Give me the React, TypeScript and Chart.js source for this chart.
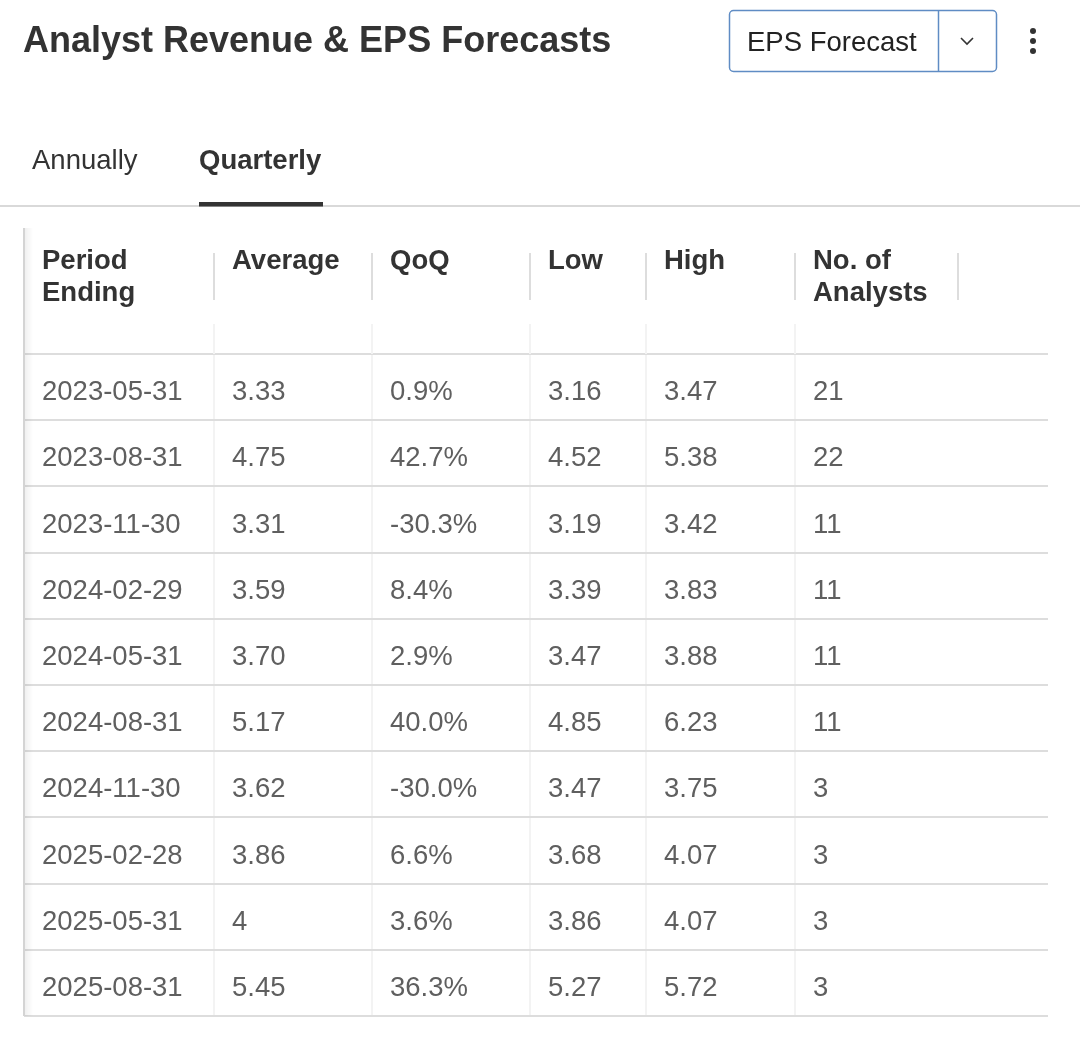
import React, { useEffect, useRef } from 'react';
import { Chart, registerables } from 'chart.js';

Chart.register(...registerables);

// ---- data ----
const periods = [
  '2023-05-31', '2023-08-31', '2023-11-30', '2024-02-29', '2024-05-31',
  '2024-08-31', '2024-11-30', '2025-02-28', '2025-05-31', '2025-08-31',
];
const average = [3.33, 4.75, 3.31, 3.59, 3.7, 5.17, 3.62, 3.86, 4, 5.45];
const qoq = [0.9, 42.7, -30.3, 8.4, 2.9, 40.0, -30.0, 6.6, 3.6, 36.3];
const low = [3.16, 4.52, 3.19, 3.39, 3.47, 4.85, 3.47, 3.68, 3.86, 5.27];
const high = [3.47, 5.38, 3.42, 3.83, 3.88, 6.23, 3.75, 4.07, 4.07, 5.72];
const analysts = [21, 22, 11, 11, 11, 11, 3, 3, 3, 3];
const columnHeaders = [['Period', 'Ending'], ['Average'], ['QoQ'], ['Low'], ['High'], ['No. of', 'Analysts']];
const title = 'Analyst Revenue & EPS Forecasts';
const tabs = ['Annually', 'Quarterly'];
const selectLabel = 'EPS Forecast';

// ---- layout (not data) ----
const COL_EDGES = [0, 190, 348, 506, 622, 771, 934];
const TABLE_WIDTH = 1024;
const FONT = '"Liberation Sans", Arial, Helvetica, sans-serif';

const fmt2 = (v: number) => (Number.isInteger(v) ? String(v) : v.toFixed(2));
const fmtPct = (v: number) => v.toFixed(1) + '%';

const columnsText: string[][] = [
  periods,
  average.map(fmt2),
  qoq.map(fmtPct),
  low.map(fmt2),
  high.map(fmt2),
  analysts.map(String),
];

const tablePlugin = {
  id: 'tablePlugin',
  afterDatasetsDraw(chart: any) {
    const ctx = chart.ctx as CanvasRenderingContext2D;
    ctx.save();
    ctx.font = `27.5px ${FONT}`;
    ctx.fillStyle = '#5f5f5f';
    ctx.textBaseline = 'alphabetic';
    chart.data.datasets.forEach((ds: any, di: number) => {
      const meta = chart.getDatasetMeta(di);
      meta.data.forEach((el: any, i: number) => {
        ctx.fillText(ds.texts[i], el.x + 18, el.y + 13);
      });
    });
    ctx.restore();
  },
  afterDraw(chart: any) {
    const ctx = chart.ctx as CanvasRenderingContext2D;
    const xs = chart.scales.x;
    const area = chart.chartArea;
    ctx.save();

    // Title
    ctx.fillStyle = '#333333';
    ctx.textBaseline = 'alphabetic';
    ctx.font = `bold 36px ${FONT}`;
    ctx.fillText(title, 23, 52);

    // Dropdown
    ctx.strokeStyle = '#5f8cc4';
    ctx.lineWidth = 1.5;
    ctx.beginPath();
    (ctx as any).roundRect(729.5, 10.5, 267, 61, 4);
    ctx.stroke();
    ctx.beginPath();
    ctx.moveTo(938.5, 11);
    ctx.lineTo(938.5, 71);
    ctx.stroke();
    ctx.fillStyle = '#222222';
    ctx.font = `27.5px ${FONT}`;
    ctx.fillText(selectLabel, 747, 51);
    ctx.strokeStyle = '#333333';
    ctx.lineWidth = 1.6;
    ctx.beginPath();
    ctx.moveTo(961, 38);
    ctx.lineTo(967, 44);
    ctx.lineTo(973, 38);
    ctx.stroke();
    ctx.fillStyle = '#333333';
    [31, 41, 51].forEach((y) => {
      ctx.beginPath();
      ctx.arc(1033, y, 3, 0, Math.PI * 2);
      ctx.fill();
    });

    // Tabs
    ctx.fillStyle = '#333333';
    ctx.font = `27.5px ${FONT}`;
    ctx.fillText(tabs[0], 32, 169);
    ctx.font = `bold 27.5px ${FONT}`;
    ctx.fillText(tabs[1], 199, 169);
    ctx.fillStyle = '#d9d9d9';
    ctx.fillRect(0, 205, 1080, 2);
    ctx.fillStyle = '#333333';
    ctx.fillRect(199, 202, 124, 4.5);

    // Header cells
    ctx.font = `bold 27.5px ${FONT}`;
    ctx.fillStyle = '#333333';
    columnHeaders.forEach((lines, c) => {
      const x = xs.getPixelForValue(COL_EDGES[c]) + 18;
      lines.forEach((ln, li) => {
        ctx.fillText(ln, x, area.top - 85 + li * 32);
      });
    });
    // header separators
    ctx.fillStyle = '#dddddd';
    COL_EDGES.slice(1).forEach((e) => {
      const x = Math.round(xs.getPixelForValue(e));
      ctx.fillRect(x - 1, 253, 2, 47);
    });
    // faint separators in header spacer
    ctx.fillStyle = '#f3f3f3';
    COL_EDGES.slice(1, 6).forEach((e) => {
      const x = Math.round(xs.getPixelForValue(e));
      ctx.fillRect(x - 1, 324, 2, area.top - 324);
    });

    // Left border with soft shadow
    const lx = Math.round(area.left);
    const grad = ctx.createLinearGradient(lx + 1, 0, lx + 9, 0);
    grad.addColorStop(0, 'rgba(0,0,0,0.06)');
    grad.addColorStop(1, 'rgba(0,0,0,0)');
    ctx.fillStyle = grad;
    ctx.fillRect(lx + 1, 228, 8, area.bottom - 228);
    ctx.fillStyle = '#d4d4d4';
    ctx.fillRect(lx - 1, 228, 2, area.bottom - 228);

    ctx.restore();
  },
};

export default function App() {
  const ref = useRef<HTMLCanvasElement | null>(null);

  useEffect(() => {
    if (!ref.current) return;
    const datasets = columnsText.map((texts, c) => ({
      label: c === 0 ? 'Period Ending' : columnHeaders[c].join(' '),
      data: periods.map((p) => ({ x: COL_EDGES[c], y: p })),
      texts,
      pointRadius: 0,
      pointHoverRadius: 0,
      showLine: false,
    }));
    const chart = new Chart(ref.current, {
      type: 'scatter',
      data: { datasets } as any,
      options: {
        animation: false,
        responsive: false,
        devicePixelRatio: 1,
        events: [],
        layout: { padding: { left: 24, right: 32, top: 354, bottom: 25 } },
        plugins: { legend: { display: false }, tooltip: { enabled: false }, title: { display: false } },
        scales: {
          x: {
            type: 'linear',
            min: 0,
            max: TABLE_WIDTH,
            afterBuildTicks: (axis: any) => {
              axis.ticks = COL_EDGES.slice(1, 6).map((v) => ({ value: v }));
            },
            ticks: { display: false },
            grid: { color: '#f3f3f3', lineWidth: 2, drawTicks: false },
            border: { display: false },
          },
          y: {
            type: 'category',
            labels: periods,
            offset: true,
            ticks: { display: false },
            grid: { color: '#dddddd', lineWidth: 2, offset: true, drawTicks: false },
            border: { display: false },
          },
        },
      } as any,
      plugins: [tablePlugin],
    });
    return () => chart.destroy();
  }, []);

  return (
    <div style={{ position: 'fixed', left: 0, top: 0, width: 1080, height: 1041, background: '#ffffff' }}>
      <canvas ref={ref} width={1080} height={1041} style={{ display: 'block', width: 1080, height: 1041 }} />
    </div>
  );
}
